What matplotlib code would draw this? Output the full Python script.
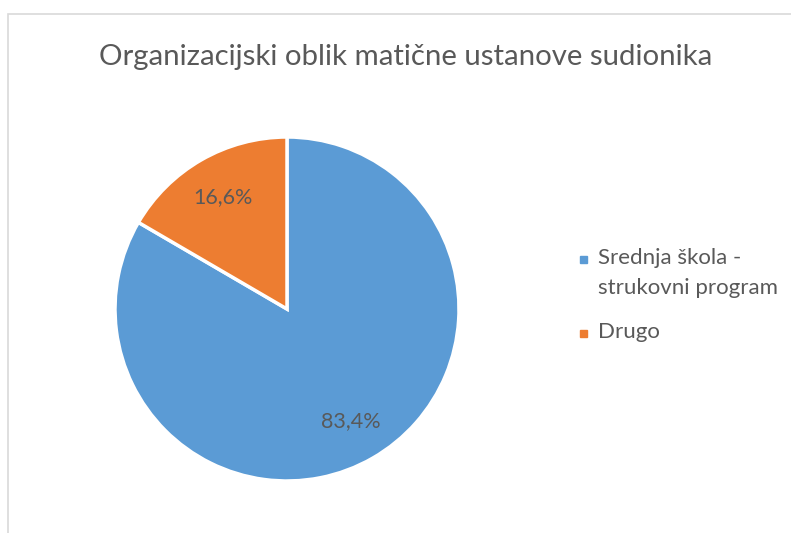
import matplotlib
matplotlib.use("Agg")
import matplotlib.pyplot as plt
from matplotlib.patches import Rectangle

TITLE = "Organizacijski oblik matične ustanove sudionika"
categories = ["Srednja škola -\nstrukovni program", "Drugo"]
shares = [83.4, 16.6]
colors = ["#5B9BD5", "#ED7D31"]
TEXT = "#595959"

plt.rcParams["font.family"] = ["Lato", "DejaVu Sans"]

W, H = 791, 533
fig = plt.figure(figsize=(W / 100, H / 100), dpi=100)

# chart border (cropped on right and bottom)
fig.patches.append(Rectangle((8 / W, -0.1), 1.2, 1 - 14 / H + 0.1,
                             transform=fig.transFigure, fill=False,
                             ec="#D9D9D9", lw=1.2))

fig.text(406 / W, 1 - 57 / H, TITLE, ha="center", va="center",
         fontsize=21.2, color=TEXT)

cx, cy, r = 287, 309, 172
ax = fig.add_axes([(cx - r) / W, 1 - (cy + r) / H, 2 * r / W, 2 * r / H])
wedges, _, autotexts = ax.pie(
    shares, colors=colors, startangle=90, counterclock=False,
    autopct=lambda p: f"{p:.1f}%".replace(".", ","), pctdistance=0.75,
    wedgeprops=dict(edgecolor="white", linewidth=2.5),
    textprops=dict(color=TEXT, fontsize=15.5),
)
ax.set_xlim(-1, 1)
ax.set_ylim(-1, 1)
ax.set_aspect("equal")

# legend drawn by hand so the marker sits on the first line, like Excel
row_top = [248, 322]
for lab, col, y in zip(categories, colors, row_top):
    fig.patches.append(Rectangle((580 / W, 1 - (y + 15) / H), 7 / W, 7 / H,
                                 transform=fig.transFigure, color=col))
    fig.text(598 / W, 1 - y / H, lab, ha="left", va="top",
             fontsize=16, color=TEXT, linespacing=1.65)

fig.savefig("out.png", dpi=100)
